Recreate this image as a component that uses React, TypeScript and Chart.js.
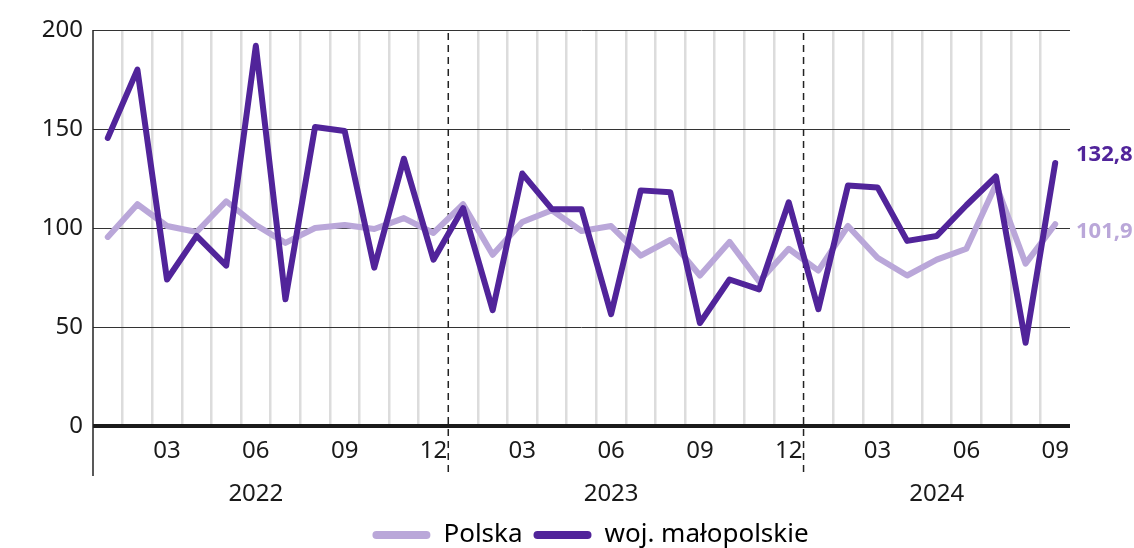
import React, { useEffect, useRef } from 'react';
import { Chart, registerables } from 'chart.js';

Chart.register(...registerables);

const categories = [
  '2022-01', '2022-02', '2022-03', '2022-04', '2022-05', '2022-06', '2022-07', '2022-08', '2022-09', '2022-10', '2022-11', '2022-12',
  '2023-01', '2023-02', '2023-03', '2023-04', '2023-05', '2023-06', '2023-07', '2023-08', '2023-09', '2023-10', '2023-11', '2023-12',
  '2024-01', '2024-02', '2024-03', '2024-04', '2024-05', '2024-06', '2024-07', '2024-08', '2024-09',
];

const shownMonths = ['03', '06', '09', '12'];
const yearLabelIndex = [5, 17, 28];
const yearLabelText = ['2022', '2023', '2024'];
const yearSeparatorIndex = [12, 24];

const polska = [
  95.5, 112, 101, 98, 113.5, 101.5, 92.5, 100, 101.5, 99.5, 105, 97.5,
  112, 86.5, 103, 109, 98.5, 101, 86, 94, 76, 93, 73, 89.5,
  78.5, 101, 85, 76, 84, 89.5, 122, 82, 101.9,
];

const malopolskie = [
  145.5, 180, 74, 96, 81, 192, 64, 151, 149, 80, 135, 84,
  110, 58.5, 127.5, 109.5, 109.5, 56.5, 119, 118, 52, 74, 69, 113,
  59, 121.5, 120.5, 93.5, 96, 111.5, 126, 42, 132.8,
];

const yTicks = [0, 50, 100, 150, 200];

const seriesNames = ['Polska', 'woj. małopolskie'];
const LIGHT = '#baa7d9';
const DARK = '#51249a';
const FONT = '"Noto Sans", sans-serif';
const TEXT = '#1a1a1a';

const fmt = (v: number) => v.toFixed(1).replace('.', ',');

const decorPlugin = {
  id: 'decor',
  afterLayout(chart: any) {
    const lg = chart.legend;
    if (lg) {
      lg.left += 9;
      lg.right += 9;
    }
  },
  beforeDatasetsDraw(chart: any) {
    const { ctx, chartArea, scales } = chart;
    const x = scales.x;
    ctx.save();
    ctx.strokeStyle = '#222';
    ctx.lineWidth = 1.5;
    ctx.beginPath();
    ctx.moveTo(chartArea.left, chartArea.top);
    ctx.lineTo(chartArea.left, chartArea.bottom + 50);
    ctx.stroke();
    ctx.setLineDash([7, 5]);
    ctx.lineWidth = 1.5;
    yearSeparatorIndex.forEach((i) => {
      const px = x.getPixelForValue(i - 0.5);
      ctx.beginPath();
      ctx.moveTo(px, chartArea.top + 3);
      ctx.lineTo(px, chartArea.bottom + 50);
      ctx.stroke();
    });
    ctx.restore();
  },
  afterDatasetsDraw(chart: any) {
    const { ctx, chartArea, scales } = chart;
    const y = scales.y;
    const last = categories.length - 1;
    ctx.save();
    ctx.font = `bold 22px ${FONT}`;
    ctx.textAlign = 'left';
    ctx.textBaseline = 'middle';
    ctx.fillStyle = DARK;
    ctx.fillText(fmt(malopolskie[last]), chartArea.right + 6, y.getPixelForValue(malopolskie[last]) - 8);
    ctx.fillStyle = LIGHT;
    ctx.fillText(fmt(polska[last]), chartArea.right + 6, y.getPixelForValue(polska[last]) + 7);
    ctx.restore();
  },
};

export default function App() {
  const ref = useRef<HTMLCanvasElement | null>(null);

  useEffect(() => {
    if (!ref.current) return;
    const chart = new Chart(ref.current, {
      type: 'line',
      data: {
        labels: categories,
        datasets: [
          {
            label: seriesNames[0],
            data: polska,
            borderColor: LIGHT,
            backgroundColor: LIGHT,
            borderWidth: 6,
            pointRadius: 0,
            borderCapStyle: 'round',
            borderJoinStyle: 'round',
            tension: 0,
            order: 2,
          },
          {
            label: seriesNames[1],
            data: malopolskie,
            borderColor: DARK,
            backgroundColor: DARK,
            borderWidth: 6,
            pointRadius: 0,
            borderCapStyle: 'round',
            borderJoinStyle: 'round',
            tension: 0,
            order: 1,
          },
        ],
      },
      options: {
        animation: false,
        responsive: true,
        maintainAspectRatio: false,
        layout: { padding: { top: 30, right: 64, left: 0, bottom: 0 } },
        plugins: {
          tooltip: { enabled: false },
          legend: {
            display: true,
            position: 'bottom',
            align: 'center',
            fullSize: false,
            labels: {
              font: { family: FONT, size: 26 },
              color: TEXT,
              boxWidth: 58,
              boxHeight: 8,
              padding: 11,
              generateLabels: (ch: any) =>
                ch.data.datasets.map((ds: any, i: number) => ({
                  text: ds.label,
                  fillStyle: ds.borderColor,
                  strokeStyle: ds.borderColor,
                  lineWidth: 0,
                  borderRadius: 4,
                  hidden: false,
                  datasetIndex: i,
                })),
            },
          },
        },
        scales: {
          x: {
            type: 'category',
            offset: true,
            position: 'bottom',
            afterFit: (s: any) => { s.height = 40; },
            grid: {
              offset: true,
              drawTicks: false,
              lineWidth: 2.5,
              color: (c: any) => {
                const i = c.index;
                if (i === undefined || i === 0 || yearSeparatorIndex.includes(i)) return 'rgba(0,0,0,0)';
                return '#dcdcdc';
              },
            },
            border: { display: false },
            ticks: {
              autoSkip: false,
              maxRotation: 0,
              padding: 11,
              color: TEXT,
              font: { family: FONT, size: 24 },
              callback: (_v: any, i: number) => {
                const m = categories[i].slice(5);
                return shownMonths.includes(m) ? m : '';
              },
            },
          },
          x2: {
            type: 'category',
            labels: categories,
            offset: true,
            position: 'bottom',
            afterFit: (s: any) => { s.height = 45; },
            grid: { display: false, drawTicks: false, offset: true },
            border: { display: false },
            ticks: {
              autoSkip: false,
              maxRotation: 0,
              padding: 14,
              color: TEXT,
              font: { family: FONT, size: 24 },
              callback: (_v: any, i: number) => {
                const k = yearLabelIndex.indexOf(i);
                return k >= 0 ? yearLabelText[k] : '';
              },
            },
          },
          y: {
            min: yTicks[0],
            max: yTicks[yTicks.length - 1],
            afterFit: (s: any) => { s.width = 93; },
            afterBuildTicks: (s: any) => { s.ticks = yTicks.map((v) => ({ value: v })); },
            grid: {
              drawTicks: false,
              color: (c: any) => (c.tick && c.tick.value === 0 ? '#1a1a1a' : '#333333'),
              lineWidth: (c: any) => (c.tick && c.tick.value === 0 ? 4 : 1),
            },
            border: { display: false },
            ticks: {
              padding: 10,
              color: TEXT,
              font: { family: FONT, size: 24 },
            },
          },
        },
      },
      plugins: [decorPlugin],
    });
    return () => chart.destroy();
  }, []);

  return (
    <div style={{ position: 'fixed', left: 0, top: 0, width: 1134, height: 558, background: '#fff' }}>
      <canvas ref={ref} />
    </div>
  );
}
